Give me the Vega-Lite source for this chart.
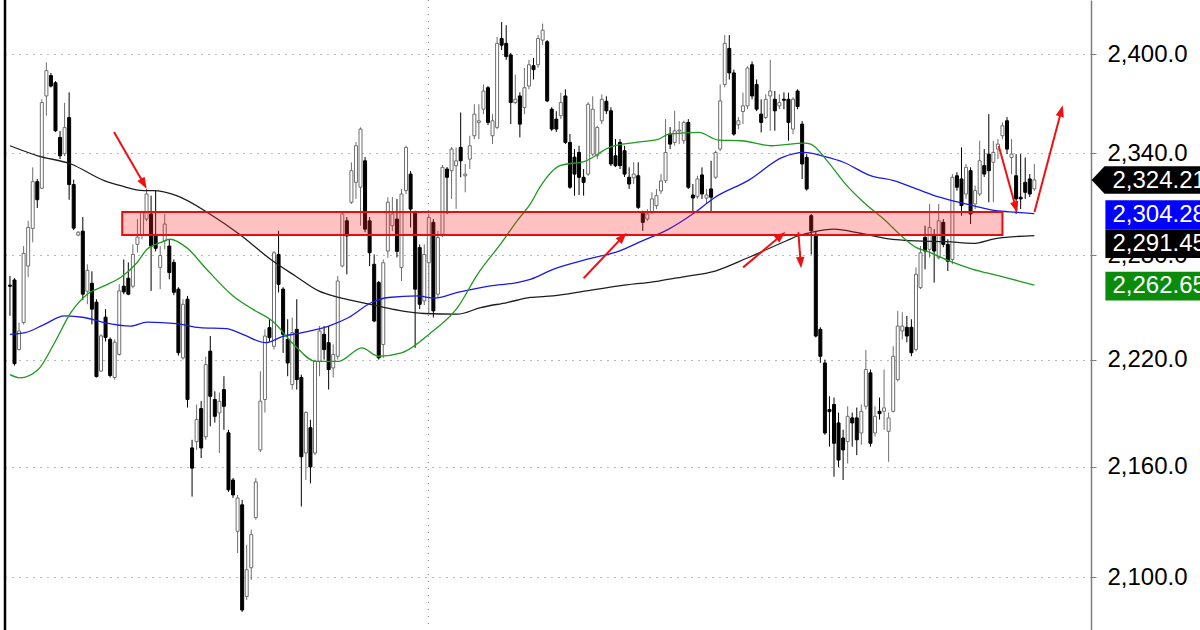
{
"$schema":"https://vega.github.io/schema/vega-lite/v6.json",
"width":1091,"height":630,
"autosize":{"type":"none"},
"padding":{"left":0,"top":0,"right":109,"bottom":0},
"background":"white",
"config":{"view":{"stroke":null},
 "axisY":{"gridDash":[1,6],"gridColor":"#707070","gridWidth":1,"domainColor":"#7f7f7f","domainWidth":1.5,"tickColor":"#7f7f7f","tickSize":5,"labelPadding":11,"labelFont":"Liberation Sans","labelFontSize":24,"labelColor":"#000000","labelAlign":"left","labelBaseline":"middle","labelOverlap":false,"labelBound":false,"labelFlush":false}},
"datasets":{
"candles":[
{"i":0,"o":2262.6,"h":2267.9,"l":2245.0,"c":2262.0},
{"i":1,"o":2265.6,"h":2266.6,"l":2216.6,"c":2217.7},
{"i":2,"o":2225.7,"h":2241.1,"l":2225.2,"c":2236.3},
{"i":3,"o":2241.1,"h":2285.3,"l":2240.0,"c":2281.0},
{"i":4,"o":2273.7,"h":2300.1,"l":2267.2,"c":2296.2},
{"i":5,"o":2295.6,"h":2331.7,"l":2287.5,"c":2323.2},
{"i":6,"o":2323.2,"h":2324.8,"l":2307.6,"c":2312.5},
{"i":7,"o":2319.3,"h":2372.6,"l":2318.9,"c":2370.6},
{"i":8,"o":2374.6,"h":2395.0,"l":2362.6,"c":2390.0},
{"i":9,"o":2387.0,"h":2388.6,"l":2379.8,"c":2380.6},
{"i":10,"o":2382.6,"h":2383.6,"l":2352.8,"c":2353.6},
{"i":11,"o":2349.6,"h":2353.4,"l":2336.6,"c":2338.6},
{"i":12,"o":2339.8,"h":2370.4,"l":2338.4,"c":2355.5},
{"i":13,"o":2361.5,"h":2376.8,"l":2312.5,"c":2321.5},
{"i":14,"o":2321.5,"h":2324.4,"l":2294.6,"c":2295.8},
{"i":15,"o":2291.7,"h":2294.0,"l":2291.1,"c":2293.4},
{"i":16,"o":2294.0,"h":2302.3,"l":2253.9,"c":2257.4},
{"i":17,"o":2259.1,"h":2274.7,"l":2251.6,"c":2271.2},
{"i":18,"o":2263.7,"h":2270.6,"l":2240.1,"c":2248.8},
{"i":19,"o":2252.8,"h":2254.5,"l":2209.9,"c":2210.4},
{"i":20,"o":2213.5,"h":2234.4,"l":2213.2,"c":2233.5},
{"i":21,"o":2244.2,"h":2248.8,"l":2230.3,"c":2232.6},
{"i":22,"o":2231.5,"h":2232.6,"l":2209.9,"c":2211.0},
{"i":23,"o":2209.9,"h":2231.5,"l":2208.7,"c":2229.9},
{"i":24,"o":2222.9,"h":2263.1,"l":2222.3,"c":2259.3},
{"i":25,"o":2262.0,"h":2277.5,"l":2257.4,"c":2258.7},
{"i":26,"o":2266.6,"h":2275.8,"l":2256.8,"c":2257.4},
{"i":27,"o":2262.0,"h":2286.3,"l":2260.8,"c":2280.4},
{"i":28,"o":2286.3,"h":2301.1,"l":2281.6,"c":2290.5},
{"i":29,"o":2291.7,"h":2306.0,"l":2289.3,"c":2305.3},
{"i":30,"o":2301.1,"h":2318.9,"l":2299.9,"c":2315.9},
{"i":31,"o":2304.1,"h":2314.9,"l":2259.3,"c":2285.3},
{"i":32,"o":2291.7,"h":2317.9,"l":2282.2,"c":2284.0},
{"i":33,"o":2272.9,"h":2285.3,"l":2260.3,"c":2279.8},
{"i":34,"o":2288.3,"h":2304.1,"l":2283.4,"c":2298.2},
{"i":35,"o":2285.3,"h":2289.3,"l":2266.0,"c":2269.9},
{"i":36,"o":2275.8,"h":2277.5,"l":2256.8,"c":2258.5},
{"i":37,"o":2260.3,"h":2261.4,"l":2222.3,"c":2223.9},
{"i":38,"o":2221.0,"h":2254.5,"l":2220.0,"c":2251.6},
{"i":39,"o":2254.5,"h":2256.4,"l":2193.0,"c":2197.5},
{"i":40,"o":2170.5,"h":2175.0,"l":2143.7,"c":2159.3},
{"i":41,"o":2174.0,"h":2194.7,"l":2169.4,"c":2186.3},
{"i":42,"o":2192.4,"h":2196.6,"l":2164.9,"c":2170.5},
{"i":43,"o":2176.7,"h":2221.7,"l":2175.0,"c":2217.2},
{"i":44,"o":2224.8,"h":2233.4,"l":2182.5,"c":2199.3},
{"i":45,"o":2197.5,"h":2202.1,"l":2184.6,"c":2188.1},
{"i":46,"o":2190.0,"h":2201.4,"l":2167.7,"c":2196.5},
{"i":47,"o":2203.1,"h":2210.6,"l":2180.6,"c":2193.7},
{"i":48,"o":2178.9,"h":2180.6,"l":2146.3,"c":2147.4},
{"i":49,"o":2152.8,"h":2153.9,"l":2143.0,"c":2144.6},
{"i":50,"o":2124.8,"h":2144.6,"l":2113.0,"c":2142.9},
{"i":51,"o":2139.2,"h":2141.9,"l":2081.5,"c":2082.5},
{"i":52,"o":2089.7,"h":2117.5,"l":2087.9,"c":2104.0},
{"i":53,"o":2105.1,"h":2125.7,"l":2098.6,"c":2123.0},
{"i":54,"o":2132.2,"h":2153.9,"l":2131.1,"c":2151.7},
{"i":55,"o":2169.4,"h":2213.4,"l":2168.2,"c":2196.6},
{"i":56,"o":2197.5,"h":2237.2,"l":2190.2,"c":2233.4},
{"i":57,"o":2238.2,"h":2243.0,"l":2230.3,"c":2232.5},
{"i":58,"o":2227.6,"h":2282.4,"l":2225.7,"c":2281.4},
{"i":59,"o":2280.4,"h":2294.2,"l":2258.4,"c":2263.1},
{"i":60,"o":2260.3,"h":2261.4,"l":2223.8,"c":2234.4},
{"i":61,"o":2231.5,"h":2243.0,"l":2210.6,"c":2218.1},
{"i":62,"o":2205.9,"h":2244.0,"l":2203.1,"c":2235.4},
{"i":63,"o":2237.2,"h":2254.5,"l":2203.1,"c":2208.7},
{"i":64,"o":2209.9,"h":2211.5,"l":2138.3,"c":2165.6},
{"i":65,"o":2167.7,"h":2190.9,"l":2152.8,"c":2190.2},
{"i":66,"o":2181.7,"h":2186.2,"l":2151.0,"c":2160.0},
{"i":67,"o":2167.7,"h":2220.0,"l":2166.5,"c":2219.0},
{"i":68,"o":2219.0,"h":2239.1,"l":2210.6,"c":2236.3},
{"i":69,"o":2234.4,"h":2239.1,"l":2220.0,"c":2225.7},
{"i":70,"o":2229.6,"h":2239.1,"l":2203.1,"c":2214.4},
{"i":71,"o":2215.3,"h":2228.6,"l":2209.9,"c":2222.9},
{"i":72,"o":2221.9,"h":2267.9,"l":2220.0,"c":2265.0},
{"i":73,"o":2273.7,"h":2305.1,"l":2272.9,"c":2304.1},
{"i":74,"o":2300.1,"h":2302.3,"l":2268.9,"c":2291.2},
{"i":75,"o":2311.0,"h":2334.7,"l":2310.0,"c":2329.7},
{"i":76,"o":2322.8,"h":2346.8,"l":2313.0,"c":2344.6},
{"i":77,"o":2319.9,"h":2355.6,"l":2297.2,"c":2354.6},
{"i":78,"o":2335.6,"h":2337.8,"l":2293.4,"c":2295.2},
{"i":79,"o":2300.1,"h":2302.3,"l":2273.7,"c":2281.4},
{"i":80,"o":2274.7,"h":2280.4,"l":2241.3,"c":2242.0},
{"i":81,"o":2264.1,"h":2265.0,"l":2220.0,"c":2221.0},
{"i":82,"o":2228.6,"h":2277.5,"l":2221.0,"c":2275.6},
{"i":83,"o":2282.4,"h":2314.0,"l":2278.5,"c":2311.0},
{"i":84,"o":2297.2,"h":2314.1,"l":2294.0,"c":2304.1},
{"i":85,"o":2301.1,"h":2313.0,"l":2278.7,"c":2282.2},
{"i":86,"o":2272.8,"h":2318.9,"l":2265.0,"c":2315.9},
{"i":87,"o":2317.9,"h":2344.6,"l":2315.9,"c":2343.6},
{"i":88,"o":2327.7,"h":2329.5,"l":2296.2,"c":2307.0},
{"i":89,"o":2305.1,"h":2306.0,"l":2226.7,"c":2260.3},
{"i":90,"o":2284.4,"h":2286.3,"l":2248.8,"c":2251.6},
{"i":91,"o":2253.5,"h":2286.3,"l":2251.1,"c":2280.4},
{"i":92,"o":2275.6,"h":2304.1,"l":2245.9,"c":2302.1},
{"i":93,"o":2299.2,"h":2301.1,"l":2244.0,"c":2247.8},
{"i":94,"o":2257.4,"h":2294.2,"l":2255.7,"c":2290.3},
{"i":95,"o":2292.2,"h":2333.1,"l":2290.5,"c":2331.7},
{"i":96,"o":2330.7,"h":2331.9,"l":2304.1,"c":2325.8},
{"i":97,"o":2329.7,"h":2343.8,"l":2313.0,"c":2342.6},
{"i":98,"o":2332.7,"h":2343.6,"l":2307.1,"c":2335.6},
{"i":99,"o":2343.6,"h":2364.6,"l":2325.8,"c":2335.6},
{"i":100,"o":2326.7,"h":2333.7,"l":2316.9,"c":2327.7},
{"i":101,"o":2336.6,"h":2350.6,"l":2330.7,"c":2344.6},
{"i":102,"o":2350.6,"h":2369.6,"l":2348.6,"c":2363.6},
{"i":103,"o":2358.6,"h":2369.6,"l":2348.6,"c":2359.6},
{"i":104,"o":2366.6,"h":2381.6,"l":2363.6,"c":2377.6},
{"i":105,"o":2379.6,"h":2380.6,"l":2357.0,"c":2358.6},
{"i":106,"o":2350.6,"h":2363.6,"l":2345.6,"c":2359.6},
{"i":107,"o":2355.6,"h":2410.7,"l":2354.6,"c":2406.7},
{"i":108,"o":2409.7,"h":2419.9,"l":2402.6,"c":2405.6},
{"i":109,"o":2406.7,"h":2417.9,"l":2396.6,"c":2398.6},
{"i":110,"o":2399.6,"h":2400.8,"l":2357.6,"c":2370.6},
{"i":111,"o":2370.6,"h":2387.6,"l":2369.6,"c":2372.6},
{"i":112,"o":2374.6,"h":2376.8,"l":2349.6,"c":2357.6},
{"i":113,"o":2367.6,"h":2391.6,"l":2363.6,"c":2379.6},
{"i":114,"o":2380.6,"h":2396.6,"l":2378.6,"c":2393.6},
{"i":115,"o":2393.0,"h":2397.8,"l":2384.6,"c":2390.6},
{"i":116,"o":2393.6,"h":2411.8,"l":2391.8,"c":2409.7},
{"i":117,"o":2408.7,"h":2418.9,"l":2405.6,"c":2414.8},
{"i":118,"o":2407.7,"h":2408.7,"l":2370.8,"c":2371.6},
{"i":119,"o":2366.6,"h":2367.8,"l":2353.4,"c":2354.6},
{"i":120,"o":2360.6,"h":2365.4,"l":2352.8,"c":2354.6},
{"i":121,"o":2362.6,"h":2376.6,"l":2360.6,"c":2370.6},
{"i":122,"o":2374.6,"h":2378.6,"l":2345.6,"c":2346.6},
{"i":123,"o":2346.6,"h":2351.6,"l":2318.9,"c":2319.9},
{"i":124,"o":2337.8,"h":2342.6,"l":2314.9,"c":2327.7},
{"i":125,"o":2340.6,"h":2344.6,"l":2315.3,"c":2325.8},
{"i":126,"o":2325.8,"h":2330.7,"l":2314.9,"c":2322.8},
{"i":127,"o":2327.7,"h":2370.8,"l":2326.6,"c":2369.6},
{"i":128,"o":2339.6,"h":2374.4,"l":2338.4,"c":2366.6},
{"i":129,"o":2338.6,"h":2356.6,"l":2336.6,"c":2355.6},
{"i":130,"o":2359.6,"h":2375.6,"l":2357.6,"c":2372.6},
{"i":131,"o":2371.4,"h":2374.4,"l":2363.6,"c":2365.6},
{"i":132,"o":2365.6,"h":2367.8,"l":2332.5,"c":2333.7},
{"i":133,"o":2338.6,"h":2348.6,"l":2331.9,"c":2332.7},
{"i":134,"o":2346.6,"h":2348.6,"l":2330.7,"c":2332.7},
{"i":135,"o":2341.6,"h":2344.6,"l":2326.0,"c":2327.7},
{"i":136,"o":2325.8,"h":2331.7,"l":2318.9,"c":2321.8},
{"i":137,"o":2325.4,"h":2334.7,"l":2321.8,"c":2327.7},
{"i":138,"o":2326.7,"h":2334.7,"l":2307.0,"c":2308.0},
{"i":139,"o":2305.1,"h":2306.0,"l":2294.2,"c":2299.2},
{"i":140,"o":2301.1,"h":2307.0,"l":2299.9,"c":2304.1},
{"i":141,"o":2305.1,"h":2316.9,"l":2304.1,"c":2313.0},
{"i":142,"o":2309.0,"h":2318.9,"l":2307.0,"c":2314.9},
{"i":143,"o":2317.7,"h":2327.7,"l":2315.9,"c":2323.6},
{"i":144,"o":2323.8,"h":2360.6,"l":2322.4,"c":2340.6},
{"i":145,"o":2351.6,"h":2355.8,"l":2342.6,"c":2345.6},
{"i":146,"o":2346.6,"h":2365.6,"l":2344.6,"c":2353.6},
{"i":147,"o":2353.4,"h":2359.4,"l":2345.6,"c":2354.0},
{"i":148,"o":2347.6,"h":2359.6,"l":2345.6,"c":2358.6},
{"i":149,"o":2358.6,"h":2360.6,"l":2318.9,"c":2319.9},
{"i":150,"o":2315.3,"h":2321.8,"l":2305.1,"c":2313.5},
{"i":151,"o":2314.3,"h":2326.7,"l":2313.0,"c":2324.8},
{"i":152,"o":2327.2,"h":2331.7,"l":2313.0,"c":2315.9},
{"i":153,"o":2313.5,"h":2318.9,"l":2310.0,"c":2315.3},
{"i":154,"o":2318.9,"h":2335.6,"l":2305.1,"c":2314.0},
{"i":155,"o":2325.8,"h":2341.6,"l":2324.8,"c":2340.6},
{"i":156,"o":2342.6,"h":2381.6,"l":2341.4,"c":2371.6},
{"i":157,"o":2381.6,"h":2411.8,"l":2379.8,"c":2406.7},
{"i":158,"o":2403.6,"h":2411.8,"l":2384.6,"c":2388.6},
{"i":159,"o":2388.6,"h":2390.6,"l":2350.6,"c":2351.6},
{"i":160,"o":2357.2,"h":2361.8,"l":2354.6,"c":2359.6},
{"i":161,"o":2365.2,"h":2376.6,"l":2357.6,"c":2368.6},
{"i":162,"o":2368.6,"h":2392.6,"l":2366.6,"c":2391.6},
{"i":163,"o":2393.6,"h":2395.6,"l":2372.6,"c":2374.6},
{"i":164,"o":2381.6,"h":2384.6,"l":2365.4,"c":2366.6},
{"i":165,"o":2363.6,"h":2372.6,"l":2352.6,"c":2358.6},
{"i":166,"o":2361.6,"h":2375.6,"l":2360.6,"c":2372.6},
{"i":167,"o":2374.6,"h":2396.6,"l":2353.6,"c":2377.6},
{"i":168,"o":2372.6,"h":2377.6,"l":2353.6,"c":2365.6},
{"i":169,"o":2368.6,"h":2375.6,"l":2366.6,"c":2370.6},
{"i":170,"o":2372.6,"h":2376.8,"l":2366.6,"c":2372.0},
{"i":171,"o":2372.6,"h":2376.6,"l":2347.6,"c":2358.6},
{"i":172,"o":2354.6,"h":2373.8,"l":2351.6,"c":2372.6},
{"i":173,"o":2377.6,"h":2378.6,"l":2366.6,"c":2368.2},
{"i":174,"o":2357.6,"h":2359.4,"l":2324.8,"c":2333.7},
{"i":175,"o":2337.6,"h":2339.6,"l":2317.9,"c":2318.9},
{"i":176,"o":2303.1,"h":2304.1,"l":2280.4,"c":2294.2},
{"i":177,"o":2292.2,"h":2294.0,"l":2232.6,"c":2233.4},
{"i":178,"o":2237.2,"h":2238.4,"l":2218.1,"c":2221.9},
{"i":179,"o":2218.1,"h":2220.0,"l":2177.8,"c":2178.8},
{"i":180,"o":2191.9,"h":2199.3,"l":2171.2,"c":2190.7},
{"i":181,"o":2194.7,"h":2198.6,"l":2154.6,"c":2173.1},
{"i":182,"o":2184.4,"h":2190.2,"l":2160.0,"c":2163.8},
{"i":183,"o":2176.0,"h":2180.6,"l":2152.8,"c":2169.4},
{"i":184,"o":2174.0,"h":2193.7,"l":2161.9,"c":2188.1},
{"i":185,"o":2187.2,"h":2190.2,"l":2171.2,"c":2184.4},
{"i":186,"o":2187.2,"h":2193.0,"l":2166.5,"c":2175.0},
{"i":187,"o":2178.8,"h":2194.7,"l":2172.2,"c":2190.9},
{"i":188,"o":2193.7,"h":2225.4,"l":2191.9,"c":2214.4},
{"i":189,"o":2212.5,"h":2214.4,"l":2171.2,"c":2173.1},
{"i":190,"o":2178.8,"h":2193.7,"l":2176.8,"c":2188.1},
{"i":191,"o":2190.9,"h":2198.6,"l":2186.3,"c":2189.6},
{"i":192,"o":2190.9,"h":2214.4,"l":2180.6,"c":2192.8},
{"i":193,"o":2179.7,"h":2190.2,"l":2162.8,"c":2187.2},
{"i":194,"o":2190.9,"h":2227.6,"l":2190.2,"c":2221.9},
{"i":195,"o":2208.7,"h":2247.8,"l":2207.6,"c":2239.1},
{"i":196,"o":2236.3,"h":2247.0,"l":2231.5,"c":2239.1},
{"i":197,"o":2238.4,"h":2244.9,"l":2229.8,"c":2233.4},
{"i":198,"o":2238.4,"h":2243.0,"l":2221.9,"c":2223.9},
{"i":199,"o":2225.7,"h":2272.9,"l":2224.6,"c":2268.9},
{"i":200,"o":2261.2,"h":2285.3,"l":2260.3,"c":2281.4},
{"i":201,"o":2290.3,"h":2297.2,"l":2271.8,"c":2282.4},
{"i":202,"o":2283.4,"h":2310.0,"l":2278.5,"c":2296.2},
{"i":203,"o":2291.2,"h":2295.2,"l":2264.1,"c":2282.4},
{"i":204,"o":2278.5,"h":2310.0,"l":2277.5,"c":2300.1},
{"i":205,"o":2299.2,"h":2301.1,"l":2284.6,"c":2286.3},
{"i":206,"o":2286.3,"h":2289.3,"l":2270.8,"c":2276.5},
{"i":207,"o":2277.5,"h":2327.7,"l":2274.7,"c":2325.8},
{"i":208,"o":2326.7,"h":2328.8,"l":2317.9,"c":2319.9},
{"i":209,"o":2324.8,"h":2343.6,"l":2303.1,"c":2309.0},
{"i":210,"o":2315.9,"h":2333.7,"l":2313.0,"c":2331.7},
{"i":211,"o":2329.7,"h":2331.7,"l":2298.2,"c":2304.1},
{"i":212,"o":2310.0,"h":2320.8,"l":2307.0,"c":2317.9},
{"i":213,"o":2315.9,"h":2347.6,"l":2314.7,"c":2335.6},
{"i":214,"o":2332.7,"h":2342.6,"l":2326.0,"c":2327.7},
{"i":215,"o":2339.6,"h":2363.6,"l":2311.0,"c":2329.7},
{"i":216,"o":2334.7,"h":2347.6,"l":2311.0,"c":2340.6},
{"i":217,"o":2342.6,"h":2348.6,"l":2336.6,"c":2345.6},
{"i":218,"o":2350.6,"h":2358.6,"l":2348.6,"c":2356.6},
{"i":219,"o":2359.6,"h":2361.8,"l":2339.6,"c":2342.6},
{"i":220,"o":2337.6,"h":2348.6,"l":2327.7,"c":2339.6},
{"i":221,"o":2326.7,"h":2339.6,"l":2304.1,"c":2313.0},
{"i":222,"o":2314.0,"h":2339.6,"l":2307.0,"c":2313.0},
{"i":223,"o":2322.8,"h":2337.6,"l":2313.0,"c":2316.9},
{"i":224,"o":2324.8,"h":2327.7,"l":2314.1,"c":2315.9},
{"i":225,"o":2318.9,"h":2333.7,"l":2317.7,"c":2324.21}
],
"ma":[
{"s":"b","i":0,"v":2344.6},{"s":"b","i":6.1,"v":2338.6},{"s":"b","i":13.4,"v":2333.7},{"s":"b","i":20.7,"v":2323.8},{"s":"b","i":24.3,"v":2320.8},{"s":"b","i":29.4,"v":2317.9},{"s":"b","i":31.6,"v":2317.9},{"s":"b","i":36.6,"v":2314.9},{"s":"b","i":43.9,"v":2304.1},{"s":"b","i":50.4,"v":2292.2},{"s":"b","i":57.3,"v":2277.5},{"s":"b","i":62.7,"v":2267.9},{"s":"b","i":67.8,"v":2259.3},{"s":"b","i":72.2,"v":2255.5},{"s":"b","i":77.3,"v":2252.6},{"s":"b","i":82.3,"v":2249.7},{"s":"b","i":86,"v":2247.8},{"s":"b","i":91,"v":2246.3},{"s":"b","i":98.3,"v":2245.9},{"s":"b","i":103.4,"v":2249.7},{"s":"b","i":109.2,"v":2252.6},{"s":"b","i":114.3,"v":2255.5},{"s":"b","i":119.3,"v":2256.4},{"s":"b","i":126.6,"v":2259.3},{"s":"b","i":133.8,"v":2262.2},{"s":"b","i":142.5,"v":2265.0},{"s":"b","i":147.6,"v":2267.3},{"s":"b","i":154.9,"v":2270.8},{"s":"b","i":162.1,"v":2278.5},{"s":"b","i":170.8,"v":2288.7},{"s":"b","i":173,"v":2291.2},{"s":"b","i":175.9,"v":2293.2},{"s":"b","i":181,"v":2295.2},{"s":"b","i":186.8,"v":2292.8},{"s":"b","i":192.6,"v":2289.7},{"s":"b","i":199.1,"v":2288.3},{"s":"b","i":205.7,"v":2287.9},{"s":"b","i":211.5,"v":2286.9},{"s":"b","i":216.5,"v":2289.7},{"s":"b","i":225,"v":2291.45},
{"s":"u","i":0,"v":2234.4},{"s":"u","i":3.3,"v":2235.3},{"s":"u","i":7.6,"v":2240.1},{"s":"u","i":12,"v":2244.9},{"s":"u","i":16.3,"v":2244.0},{"s":"u","i":20.7,"v":2241.1},{"s":"u","i":26.5,"v":2239.1},{"s":"u","i":30.1,"v":2241.4},{"s":"u","i":36.6,"v":2240.5},{"s":"u","i":41.7,"v":2238.2},{"s":"u","i":47.5,"v":2237.6},{"s":"u","i":51.1,"v":2234.4},{"s":"u","i":56.2,"v":2229.6},{"s":"u","i":59.8,"v":2233.1},{"s":"u","i":64.2,"v":2235.4},{"s":"u","i":70,"v":2239.1},{"s":"u","i":74.4,"v":2244.0},{"s":"u","i":79.4,"v":2252.6},{"s":"u","i":83.1,"v":2255.5},{"s":"u","i":89.6,"v":2256.4},{"s":"u","i":93.2,"v":2255.1},{"s":"u","i":98.3,"v":2258.4},{"s":"u","i":105.5,"v":2262.2},{"s":"u","i":111.4,"v":2264.1},{"s":"u","i":114.3,"v":2266.0},{"s":"u","i":119.3,"v":2271.8},{"s":"u","i":126.6,"v":2277.5},{"s":"u","i":133.8,"v":2282.4},{"s":"u","i":138.9,"v":2288.3},{"s":"u","i":144.7,"v":2295.2},{"s":"u","i":150.2,"v":2304.5},{"s":"u","i":154.9,"v":2314.0},{"s":"u","i":162.1,"v":2323.8},{"s":"u","i":169.8,"v":2337.8},{"s":"u","i":174.5,"v":2340.6},{"s":"u","i":178.8,"v":2338.2},{"s":"u","i":183.2,"v":2334.6},{"s":"u","i":189,"v":2326.8},{"s":"u","i":194.1,"v":2323.8},{"s":"u","i":199.1,"v":2318.9},{"s":"u","i":204.2,"v":2314.0},{"s":"u","i":211.5,"v":2309.0},{"s":"u","i":216.5,"v":2306.0},{"s":"u","i":221.3,"v":2305.1},{"s":"u","i":225,"v":2304.28},
{"s":"g","i":0,"v":2211.5},{"s":"g","i":2.2,"v":2209.7},{"s":"g","i":6.2,"v":2214.4},{"s":"g","i":9.8,"v":2229.6},{"s":"g","i":13.4,"v":2246.9},{"s":"g","i":17,"v":2257.4},{"s":"g","i":20.7,"v":2262.2},{"s":"g","i":24.3,"v":2267.0},{"s":"g","i":27.9,"v":2275.6},{"s":"g","i":30.1,"v":2283.4},{"s":"g","i":33,"v":2287.3},{"s":"g","i":35.2,"v":2289.3},{"s":"g","i":38.8,"v":2284.4},{"s":"g","i":43.2,"v":2271.8},{"s":"g","i":49,"v":2256.4},{"s":"g","i":53.3,"v":2248.8},{"s":"g","i":57.7,"v":2241.8},{"s":"g","i":62.7,"v":2227.6},{"s":"g","i":67.1,"v":2219.0},{"s":"g","i":72.2,"v":2219.0},{"s":"g","i":77.3,"v":2226.7},{"s":"g","i":80.9,"v":2221.9},{"s":"g","i":86,"v":2223.8},{"s":"g","i":92.5,"v":2235.4},{"s":"g","i":98.3,"v":2249.7},{"s":"g","i":102.7,"v":2268.9},{"s":"g","i":107.7,"v":2286.3},{"s":"g","i":111.4,"v":2300.1},{"s":"g","i":114.3,"v":2310.0},{"s":"g","i":116.4,"v":2319.9},{"s":"g","i":120.8,"v":2332.7},{"s":"g","i":126.6,"v":2335.6},{"s":"g","i":131.7,"v":2343.6},{"s":"g","i":137.5,"v":2346.6},{"s":"g","i":142.5,"v":2348.6},{"s":"g","i":144.7,"v":2351.6},{"s":"g","i":151.3,"v":2352.6},{"s":"g","i":155.6,"v":2348.0},{"s":"g","i":160.7,"v":2347.6},{"s":"g","i":167.2,"v":2344.6},{"s":"g","i":174.5,"v":2346.2},{"s":"g","i":175.9,"v":2345.6},{"s":"g","i":179.5,"v":2335.6},{"s":"g","i":183.2,"v":2322.8},{"s":"g","i":187.5,"v":2311.0},{"s":"g","i":191.9,"v":2301.1},{"s":"g","i":196.2,"v":2290.3},{"s":"g","i":199.1,"v":2284.4},{"s":"g","i":201.3,"v":2282.4},{"s":"g","i":206.4,"v":2276.5},{"s":"g","i":211.5,"v":2271.8},{"s":"g","i":217.3,"v":2268.0},{"s":"g","i":221.6,"v":2265.0},{"s":"g","i":225,"v":2262.65}
],
"zone":[{"i1":24.66,"i2":218.0,"p1":2291.7,"p2":2305.3}],
"arrows":[
{"x1":22.85,"y1":2352.8,"x2":29.38,"y2":2322.1,"a":149.8},
{"x1":126.0,"y1":2266.6,"x2":134.54,"y2":2290.5,"a":43.7},
{"x1":161.04,"y1":2272.9,"x2":169.31,"y2":2291.3,"a":50.3},
{"x1":173.17,"y1":2293.4,"x2":173.67,"y2":2275.8,"a":175.6},
{"x1":217.19,"y1":2344.4,"x2":220.89,"y2":2308.2,"a":164.5},
{"x1":225.03,"y1":2305.3,"x2":230.9,"y2":2365.4,"a":14.9}
],
"vgrid":[{"i":91.9}],
"labels":[{"k":"c","v":2324.21},{"k":"u","v":2304.28},{"k":"b","v":2291.45},{"k":"g","v":2262.65}]
},
"layer":[
{"data":{"name":"vgrid"},"mark":{"type":"rule","color":"#808080","strokeDash":[1,6],"strokeWidth":1},
 "encoding":{"x":{"field":"i","type":"quantitative","scale":{"domain":[-1.088,236.35],"nice":false,"zero":false},"axis":null}}},
{"data":{"values":[{"z":0}]},"mark":{"type":"rule","color":"#000000","strokeWidth":2.5},
 "encoding":{"x":{"datum":-1.088,"type":"quantitative","scale":{"domain":[-1.088,236.35],"nice":false,"zero":false},"axis":null}}},
{"data":{"name":"candles"},"mark":{"type":"rule","strokeWidth":1},
 "encoding":{
  "x":{"field":"i","type":"quantitative","scale":{"domain":[-1.088,236.35],"nice":false,"zero":false},"axis":null},
  "y":{"field":"l","type":"quantitative","scale":{"type":"log","domain":[2071.9,2433.5],"nice":false,"zero":false},
   "axis":{"orient":"right","values":[2100,2160,2220,2280,2340,2400],"format":",.1f","title":null,"grid":true}},
  "y2":{"field":"h"},
  "color":{"condition":{"test":"datum.c >= datum.o","value":"#6e6e6e"},"value":"#000000"}}},
{"data":{"name":"candles"},"mark":{"type":"bar","size":3,"strokeWidth":1},
 "encoding":{
  "x":{"field":"i","type":"quantitative","scale":{"domain":[-1.088,236.35],"nice":false,"zero":false},"axis":null},
  "y":{"field":"o","type":"quantitative","scale":{"type":"log","domain":[2071.9,2433.5],"nice":false,"zero":false},
   "axis":{"orient":"right","values":[2100,2160,2220,2280,2340,2400],"format":",.1f","title":null,"grid":true}},
  "y2":{"field":"c"},
  "fill":{"condition":{"test":"datum.c >= datum.o","value":"#ffffff"},"value":"#000000"},
  "stroke":{"condition":{"test":"datum.c >= datum.o","value":"#6e6e6e"},"value":"#000000"}}},
{"data":{"name":"ma"},"mark":{"type":"line","strokeWidth":1.3,"interpolate":"monotone"},
 "encoding":{
  "x":{"field":"i","type":"quantitative","scale":{"domain":[-1.088,236.35],"nice":false,"zero":false},"axis":null},
  "y":{"field":"v","type":"quantitative","scale":{"type":"log","domain":[2071.9,2433.5],"nice":false,"zero":false},
   "axis":{"orient":"right","values":[2100,2160,2220,2280,2340,2400],"format":",.1f","title":null,"grid":true}},
  "color":{"field":"s","type":"nominal","scale":{"domain":["b","u","g"],"range":["#1e1e1e","#1a1ae6","#1f9a1f"]},"legend":null}}},
{"data":{"name":"zone"},"mark":{"type":"rect","fill":"#ff2020","fillOpacity":0.28,"stroke":"#e01010","strokeWidth":2},
 "encoding":{
  "x":{"field":"i1","type":"quantitative","scale":{"domain":[-1.088,236.35],"nice":false,"zero":false},"axis":null},
  "x2":{"field":"i2"},
  "y":{"field":"p1","type":"quantitative","scale":{"type":"log","domain":[2071.9,2433.5],"nice":false,"zero":false},
   "axis":{"orient":"right","values":[2100,2160,2220,2280,2340,2400],"format":",.1f","title":null,"grid":true}},
  "y2":{"field":"p2"}}},
{"data":{"name":"arrows"},"mark":{"type":"rule","color":"#f01010","strokeWidth":2},
 "encoding":{
  "x":{"field":"x1","type":"quantitative","scale":{"domain":[-1.088,236.35],"nice":false,"zero":false},"axis":null},
  "x2":{"field":"x2"},
  "y":{"field":"y1","type":"quantitative","scale":{"type":"log","domain":[2071.9,2433.5],"nice":false,"zero":false},
   "axis":{"orient":"right","values":[2100,2160,2220,2280,2340,2400],"format":",.1f","title":null,"grid":true}},
  "y2":{"field":"y2"}}},
{"data":{"name":"arrows"},"mark":{"type":"point","shape":"M0,-1L0.7,0.9L-0.7,0.9Z","filled":true,"fill":"#f01010","opacity":1,"size":144,"strokeWidth":0},
 "encoding":{
  "x":{"field":"x2","type":"quantitative","scale":{"domain":[-1.088,236.35],"nice":false,"zero":false},"axis":null},
  "y":{"field":"y2","type":"quantitative","scale":{"type":"log","domain":[2071.9,2433.5],"nice":false,"zero":false},
   "axis":{"orient":"right","values":[2100,2160,2220,2280,2340,2400],"format":",.1f","title":null,"grid":true}},
  "angle":{"field":"a","type":"quantitative","scale":null}}},
{"data":{"name":"labels"},"transform":[{"filter":"datum.k == 'c'"}],
 "mark":{"type":"point","shape":"M-0.99,0L-0.775,-0.23L1,-0.23L1,0.23L-0.775,0.23Z","filled":true,"fill":"#000000","opacity":1,"size":14400,"strokeWidth":0,"xOffset":60},
 "encoding":{"x":{"value":"width"},
  "y":{"field":"v","type":"quantitative","scale":{"type":"log","domain":[2071.9,2433.5],"nice":false,"zero":false},
   "axis":{"orient":"right","values":[2100,2160,2220,2280,2340,2400],"format":",.1f","title":null,"grid":true}}}},
{"data":{"name":"labels"},"transform":[{"filter":"datum.k == 'u' || datum.k == 'g'"}],
 "mark":{"type":"point","shape":"M-0.76,-0.24L1,-0.24L1,0.24L-0.76,0.24Z","filled":true,"opacity":1,"size":14400,"strokeWidth":0,"xOffset":60,"yOffset":1},
 "encoding":{"x":{"value":"width"},
  "y":{"field":"v","type":"quantitative","scale":{"type":"log","domain":[2071.9,2433.5],"nice":false,"zero":false},
   "axis":{"orient":"right","values":[2100,2160,2220,2280,2340,2400],"format":",.1f","title":null,"grid":true}},
  "fill":{"field":"k","type":"nominal","scale":{"domain":["u","g"],"range":["#0000ff","#0a8c0a"]},"legend":null}}},
{"data":{"name":"labels"},"transform":[{"filter":"datum.k == 'b'"}],
 "mark":{"type":"point","shape":"M-0.76,-0.24L1,-0.24L1,0.24L-0.76,0.24Z","filled":true,"fill":"#000000","opacity":1,"size":14400,"strokeWidth":0,"xOffset":60,"yOffset":8},
 "encoding":{"x":{"value":"width"},
  "y":{"field":"v","type":"quantitative","scale":{"type":"log","domain":[2071.9,2433.5],"nice":false,"zero":false},
   "axis":{"orient":"right","values":[2100,2160,2220,2280,2340,2400],"format":",.1f","title":null,"grid":true}}}},
{"data":{"name":"labels"},"transform":[{"filter":"datum.k != 'b'"}],
 "mark":{"type":"text","align":"left","baseline":"middle","font":"Liberation Sans","fontSize":24,"color":"#ffffff","xOffset":21.5,"yOffset":1},
 "encoding":{"x":{"value":"width"},
  "y":{"field":"v","type":"quantitative","scale":{"type":"log","domain":[2071.9,2433.5],"nice":false,"zero":false},
   "axis":{"orient":"right","values":[2100,2160,2220,2280,2340,2400],"format":",.1f","title":null,"grid":true}},
  "text":{"field":"v","type":"quantitative","format":",.2f"}}},
{"data":{"name":"labels"},"transform":[{"filter":"datum.k == 'b'"}],
 "mark":{"type":"text","align":"left","baseline":"middle","font":"Liberation Sans","fontSize":24,"color":"#ffffff","xOffset":21.5,"yOffset":8},
 "encoding":{"x":{"value":"width"},
  "y":{"field":"v","type":"quantitative","scale":{"type":"log","domain":[2071.9,2433.5],"nice":false,"zero":false},
   "axis":{"orient":"right","values":[2100,2160,2220,2280,2340,2400],"format":",.1f","title":null,"grid":true}},
  "text":{"field":"v","type":"quantitative","format":",.2f"}}}
]
}
